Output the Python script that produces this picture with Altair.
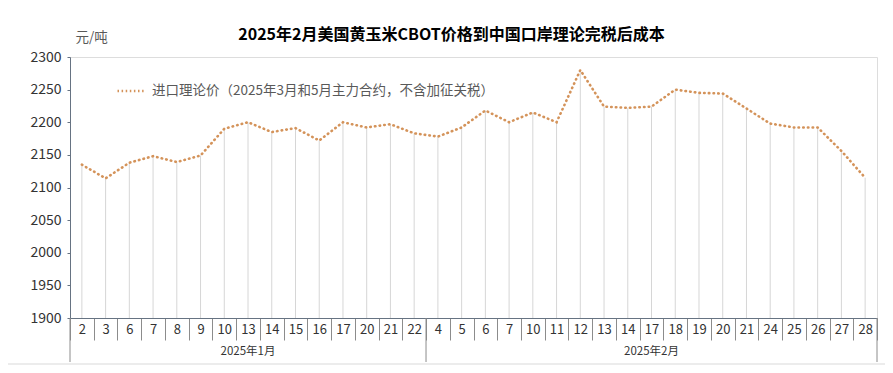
import altair as alt
import pandas as pd

FONT = "Noto Sans CJK SC"

# ---- data ----
month_names = ["2025年1月", "2025年2月"]
jan_days = [2, 3, 6, 7, 8, 9, 10, 13, 14, 15, 16, 17, 20, 21, 22]
feb_days = [4, 5, 6, 7, 10, 11, 12, 13, 14, 17, 18, 19, 20, 21, 24, 25, 26, 27, 28]
jan_values = [2135, 2114, 2138, 2148, 2139, 2149, 2190, 2200, 2185, 2191, 2172, 2200, 2192, 2197, 2183]
feb_values = [2178, 2192, 2218, 2200, 2215, 2200, 2280, 2224, 2222, 2224, 2250, 2245, 2244, 2221, 2198,
              2192, 2192, 2156, 2115]
series_name = "进口理论价（2025年3月和5月主力合约，不含加征关税）"
y_ticks = [1900, 1950, 2000, 2050, 2100, 2150, 2200, 2250, 2300]
title_text = "2025年2月美国黄玉米CBOT价格到中国口岸理论完税后成本"
unit_text = "元/吨"

# ---- tables ----
keys = [f"1-{d}" for d in jan_days] + [f"2-{d}" for d in feb_days]
df = pd.DataFrame({
    "key": keys,
    "value": jan_values + feb_values,
    "base": [y_ticks[0]] * len(keys),
    "series": [series_name] * len(keys),
})
mid_keys = [f"1-{jan_days[len(jan_days) // 2]}", f"2-{feb_days[len(feb_days) // 2]}"]
months_df = pd.DataFrame({"key": mid_keys, "label": month_names})
sep_df = pd.DataFrame({"key": [f"1-{jan_days[0]}", f"2-{feb_days[0]}"]})

W, H = 807, 261
LINE_COLOR = "#D4935A"
AXIS_COLOR = "#667382"

xscale = alt.Scale(domain=keys, paddingInner=0, paddingOuter=0)
yscale = alt.Scale(domain=[y_ticks[0], y_ticks[-1]], nice=False, zero=False)

x_axis = alt.Axis(
    title=None, labelAngle=0, labelOverlap=False,
    labelExpr="split(datum.label, '-')[1]",
    labelFont=FONT, labelFontSize=13, labelColor="#333333", labelPadding=-17,
    tickBand="extent", tickSize=22, tickColor="#8c8c8c", tickWidth=1,
    domainColor=AXIS_COLOR, domainWidth=1,
)
y_axis = alt.Axis(
    values=y_ticks, tickCount=len(y_ticks), grid=False, format="d", labelOverlap=False,
    title=unit_text, titleAngle=0, titleX=5, titleY=-20,
    titleAlign="left", titleBaseline="middle",
    titleFont=FONT, titleFontSize=13.5, titleFontWeight="normal", titleColor="#595959",
    labelFont=FONT, labelFontSize=14, labelColor="#333333", labelPadding=6,
    tickSize=3, tickColor=AXIS_COLOR, domainColor=AXIS_COLOR,
)

x_main = alt.X("key:N", sort=None, scale=xscale, axis=x_axis)
y_main = alt.Y("value:Q", scale=yscale, axis=y_axis)

drops = alt.Chart(df).mark_rule(color="#d6d6d6", strokeWidth=1).encode(
    x=x_main,
    y=y_main,
    y2="base:Q",
)

line = alt.Chart(df).mark_line(
    strokeDash=[0.5, 4.2], strokeCap="round", strokeWidth=2.6
).encode(
    x=x_main,
    y=y_main,
    color=alt.Color(
        "series:N",
        scale=alt.Scale(range=[LINE_COLOR]),
        legend=alt.Legend(
            title=None, orient="none", legendX=46, legendY=19,
            symbolType="stroke", symbolSize=729, symbolStrokeWidth=2.5,
            symbolDash=[1.5, 2.6], labelOffset=6,
            labelFont=FONT, labelFontSize=13.5, labelColor="#595959", labelLimit=0,
        ),
    ),
)

month_text = alt.Chart(months_df).mark_text(
    font=FONT, fontSize=11.5, color="#333333", baseline="middle"
).encode(
    x=x_main,
    y=alt.value(H + 34),
    text="label:N",
)

month_sep = alt.Chart(sep_df).mark_rule(color="#8c8c8c", strokeWidth=1).encode(
    x=alt.X("key:N", sort=None, scale=xscale, axis=x_axis, bandPosition=0),
    y=alt.value(H),
    y2=alt.value(H + 44),
)

right_sep = alt.Chart(sep_df.head(1)).mark_rule(color="#8c8c8c", strokeWidth=1).encode(
    x=alt.value(W), y=alt.value(H), y2=alt.value(H + 44),
)

bottom_border = alt.Chart(sep_df.head(1)).mark_rule(color="#d9d9d9", strokeWidth=1).encode(
    x=alt.value(-62), x2=alt.value(W + 8), y=alt.value(H + 46),
)

chart = alt.layer(
    drops, line, month_sep, right_sep, month_text, bottom_border
).properties(
    width=W, height=H,
    padding={"left": 62, "top": 49, "right": 8, "bottom": 48},
    autosize=alt.AutoSizeParams(type="none"),
    title=alt.Title(
        title_text, font=FONT, fontSize=16, fontWeight="bold", color="#000000",
        anchor="middle", dx=-22, offset=14, dy=27,
    ),
).configure_view(
    stroke=AXIS_COLOR, strokeWidth=1
).configure(background="white")

chart.save("out.html", embed_options={"renderer": "svg", "actions": False})
